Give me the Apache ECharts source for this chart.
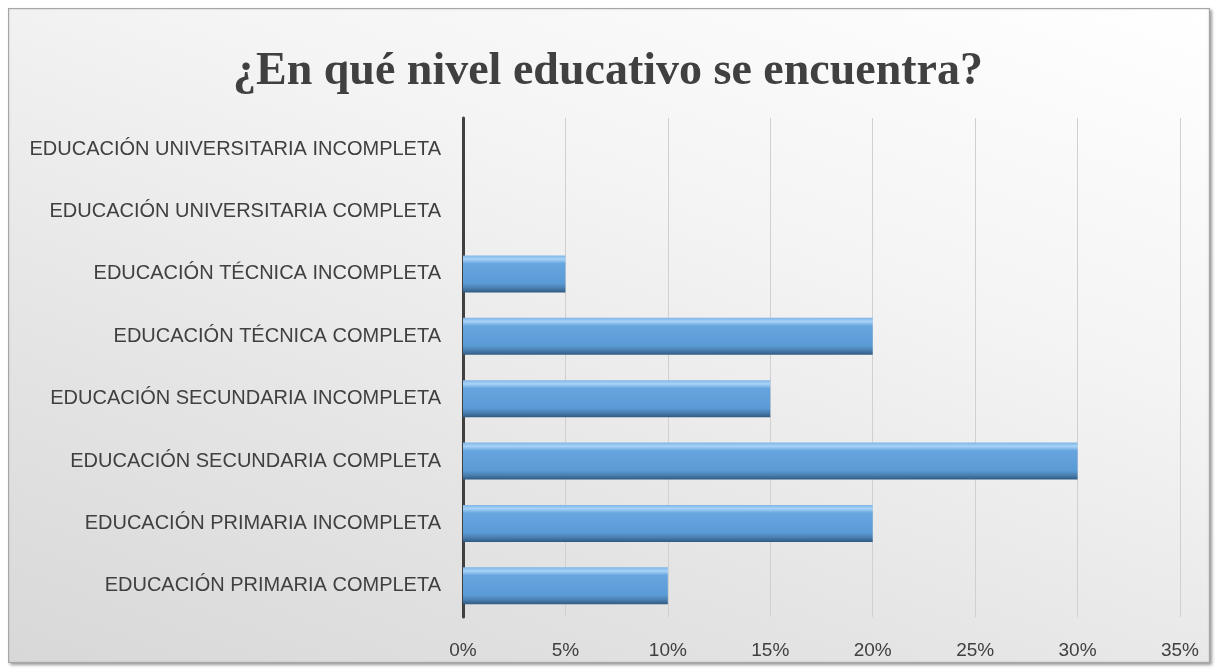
<!DOCTYPE html>
<html><head><meta charset="utf-8">
<script src="https://cdn.jsdelivr.net/npm/echarts@6/dist/echarts.min.js"></script>
<style>
html,body{margin:0;padding:0;background:#fff;}
#frame{position:absolute;left:8px;top:8px;width:1200px;height:653px;border:1px solid #a6a6a6;box-shadow:2px 2px 3px #999, inset 0 0 2px #bbb;
background:linear-gradient(200deg,#ffffff 0%,#f4f4f4 35%,#e4e4e4 70%,#d8d8d8 100%);}
#c{position:absolute;left:0;top:0;width:1216px;height:671px;}
</style></head><body>
<div id="frame"></div>
<div id="c"></div>
<script>
const categories = ['EDUCACIÓN PRIMARIA COMPLETA','EDUCACIÓN PRIMARIA INCOMPLETA','EDUCACIÓN SECUNDARIA COMPLETA','EDUCACIÓN SECUNDARIA INCOMPLETA','EDUCACIÓN TÉCNICA COMPLETA','EDUCACIÓN TÉCNICA INCOMPLETA','EDUCACIÓN UNIVERSITARIA COMPLETA','EDUCACIÓN UNIVERSITARIA INCOMPLETA'];
const values = [10,20,30,15,20,5,0,0];
const tickValues = [0,5,10,15,20,25,30,35];
const titleText = '¿En qué nivel educativo se encuentra?';

const chart = echarts.init(document.getElementById('c'));
chart.setOption({
  backgroundColor:'transparent',
  title:{text:titleText,left:'center',top:44,textStyle:{fontFamily:'Liberation Serif',fontWeight:'bold',fontSize:46,color:'#404040'}},
  grid:{left:463,right:36,top:118,bottom:54},
  xAxis:{type:'value',min:0,max:35,interval:5,
    axisLabel:{formatter:v=>v+'%',fontFamily:'Liberation Sans',fontSize:19,color:'#404040',margin:24},
    axisLine:{show:false},axisTick:{show:false},
    splitLine:{lineStyle:{color:'#d0d0d0',width:1}}},
  yAxis:{type:'category',data:categories,
    axisLabel:{fontFamily:'Liberation Sans',fontSize:20,color:'#404040',margin:22},
    axisLine:{lineStyle:{color:'#404040',width:3}},axisTick:{show:false}},
  series:[{type:'bar',data:values,barWidth:37,
    itemStyle:{borderWidth:0,
      color:new echarts.graphic.LinearGradient(0,0,0,1,[
        {offset:0,color:'#7fb4e6'},{offset:0.1,color:'#a8d3f7'},{offset:0.22,color:'#67a5df'},
        {offset:0.75,color:'#5b9bd5'},{offset:0.88,color:'#4a7fb0'},{offset:1,color:'#2f5a82'}])}}]
});
</script>
</body></html>
